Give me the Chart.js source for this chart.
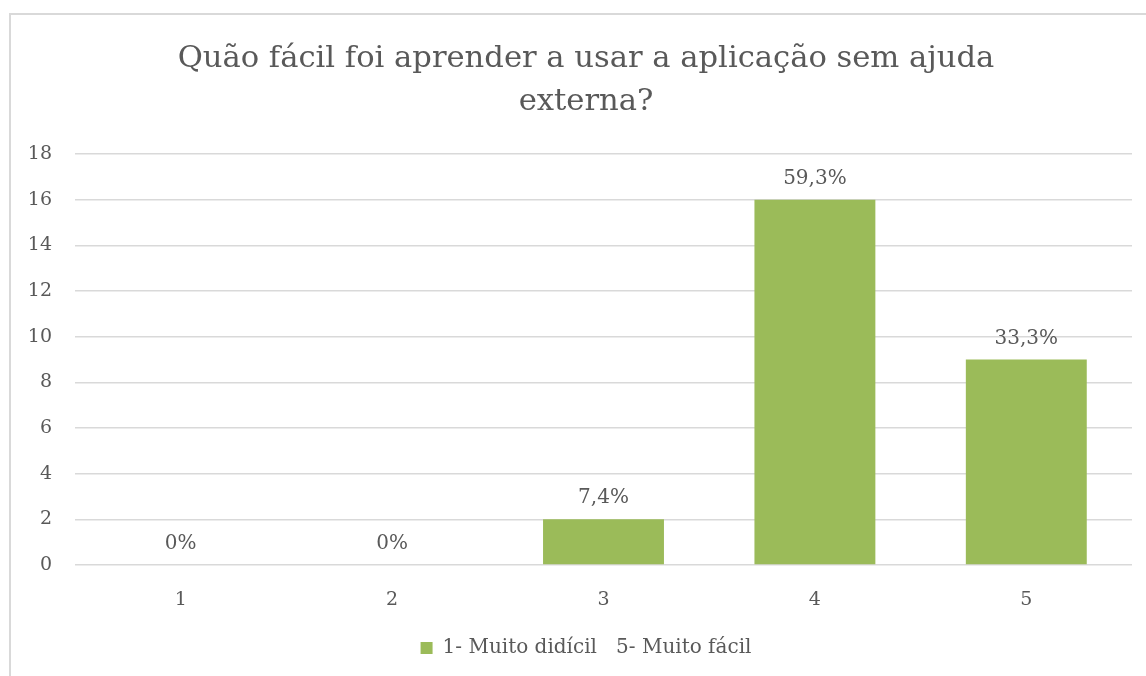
<!DOCTYPE html>
<html>
<head>
<meta charset="utf-8">
<script src="https://cdn.jsdelivr.net/npm/chart.js@4"></script>
<style>
  html, body { margin: 0; padding: 0; background: #ffffff; overflow: hidden; }
  #wrap { position: absolute; left: 9px; top: 13px; width: 1154px; height: 690px; }
</style>
</head>
<body>
<div id="wrap"><canvas id="ratingChart"></canvas></div>
<script>
// answers per rating (1 = very hard, 5 = very easy)
var ratings = ['1', '2', '3', '4', '5'];
var answers = [0, 0, 2, 16, 9];
var seriesName = '1- Muito didícil   5- Muito fácil';
var titleLines = ['Quão fácil foi aprender a usar a aplicação sem ajuda', 'externa?'];
var yTicks = [0, 2, 4, 6, 8, 10, 12, 14, 16, 18];

var textColor = '#595959';
var fontFamily = '"DejaVu Serif", "Liberation Serif", serif';

var total = answers.reduce(function (a, b) { return a + b; }, 0);

function percentLabel(v) {
    if (v === 0) return '0%';
    return (v / total * 100).toFixed(1).replace('.', ',') + '%';
}

// white background with a light frame around the whole chart
var frame = {
    id: 'frame',
    beforeDraw: function (chart) {
        var c = chart.ctx;
        c.save();
        c.fillStyle = '#ffffff';
        c.fillRect(0, 0, chart.width, chart.height);
        c.strokeStyle = '#d9d9d9';
        c.lineWidth = 2;
        c.strokeRect(1, 1, chart.width - 2, chart.height - 2);
        c.restore();
    }
};

// percentage above each bar
var barLabels = {
    id: 'barLabels',
    afterDatasetsDraw: function (chart) {
        var c = chart.ctx;
        var meta = chart.getDatasetMeta(0);
        c.save();
        c.font = '20px ' + fontFamily;
        c.fillStyle = textColor;
        c.textAlign = 'center';
        c.textBaseline = 'alphabetic';
        meta.data.forEach(function (bar, i) {
            c.fillText(percentLabel(answers[i]), bar.x, bar.y - 16);
        });
        c.restore();
    }
};

document.addEventListener('DOMContentLoaded', function () {
    var ctx = document.getElementById('ratingChart').getContext('2d');
    var ratingChart = new Chart(ctx, {
        type: 'bar',
        data: {
            labels: ratings,
            datasets: [{
                label: seriesName,
                data: answers,
                backgroundColor: '#9bbb59',
                borderWidth: 0,
                categoryPercentage: 1,
                barPercentage: 0.572
            }]
        },
        options: {
            responsive: true,
            maintainAspectRatio: false,
            animation: false,
            layout: { padding: { left: 0, right: 0, top: 0, bottom: 35 } },
            plugins: {
                title: {
                    display: true,
                    text: titleLines,
                    color: textColor,
                    font: { family: fontFamily, size: 30.6, weight: 'normal', lineHeight: 1.39 },
                    padding: { top: 25, bottom: 31 }
                },
                legend: {
                    position: 'bottom',
                    labels: {
                        color: textColor,
                        font: { family: fontFamily, size: 20 },
                        boxWidth: 12,
                        boxHeight: 12,
                        padding: 10
                    }
                },
                tooltip: { enabled: false }
            },
            scales: {
                x: {
                    grid: { display: false },
                    border: { display: false },
                    ticks: {
                        color: textColor,
                        font: { family: fontFamily, size: 19 },
                        padding: 16
                    },
                    afterFit: function (scale) { scale.height = 63; }
                },
                y: {
                    min: 0,
                    max: 18,
                    afterBuildTicks: function (scale) {
                        scale.ticks = yTicks.map(function (v) { return { value: v }; });
                    },
                    grid: { color: '#d9d9d9', lineWidth: 1.5, drawTicks: false },
                    border: { display: false },
                    ticks: {
                        color: textColor,
                        font: { family: fontFamily, size: 19 },
                        padding: 23
                    },
                    afterFit: function (scale) { scale.width = 66; }
                },
                // empty right-hand axis that only keeps a margin beside the plot
                yRight: {
                    position: 'right',
                    min: 0,
                    max: 18,
                    grid: { display: false },
                    border: { display: false },
                    ticks: { display: false },
                    afterFit: function (scale) { scale.width = 31; }
                }
            }
        },
        plugins: [frame, barLabels]
    });
});
</script>
</body>
</html>
